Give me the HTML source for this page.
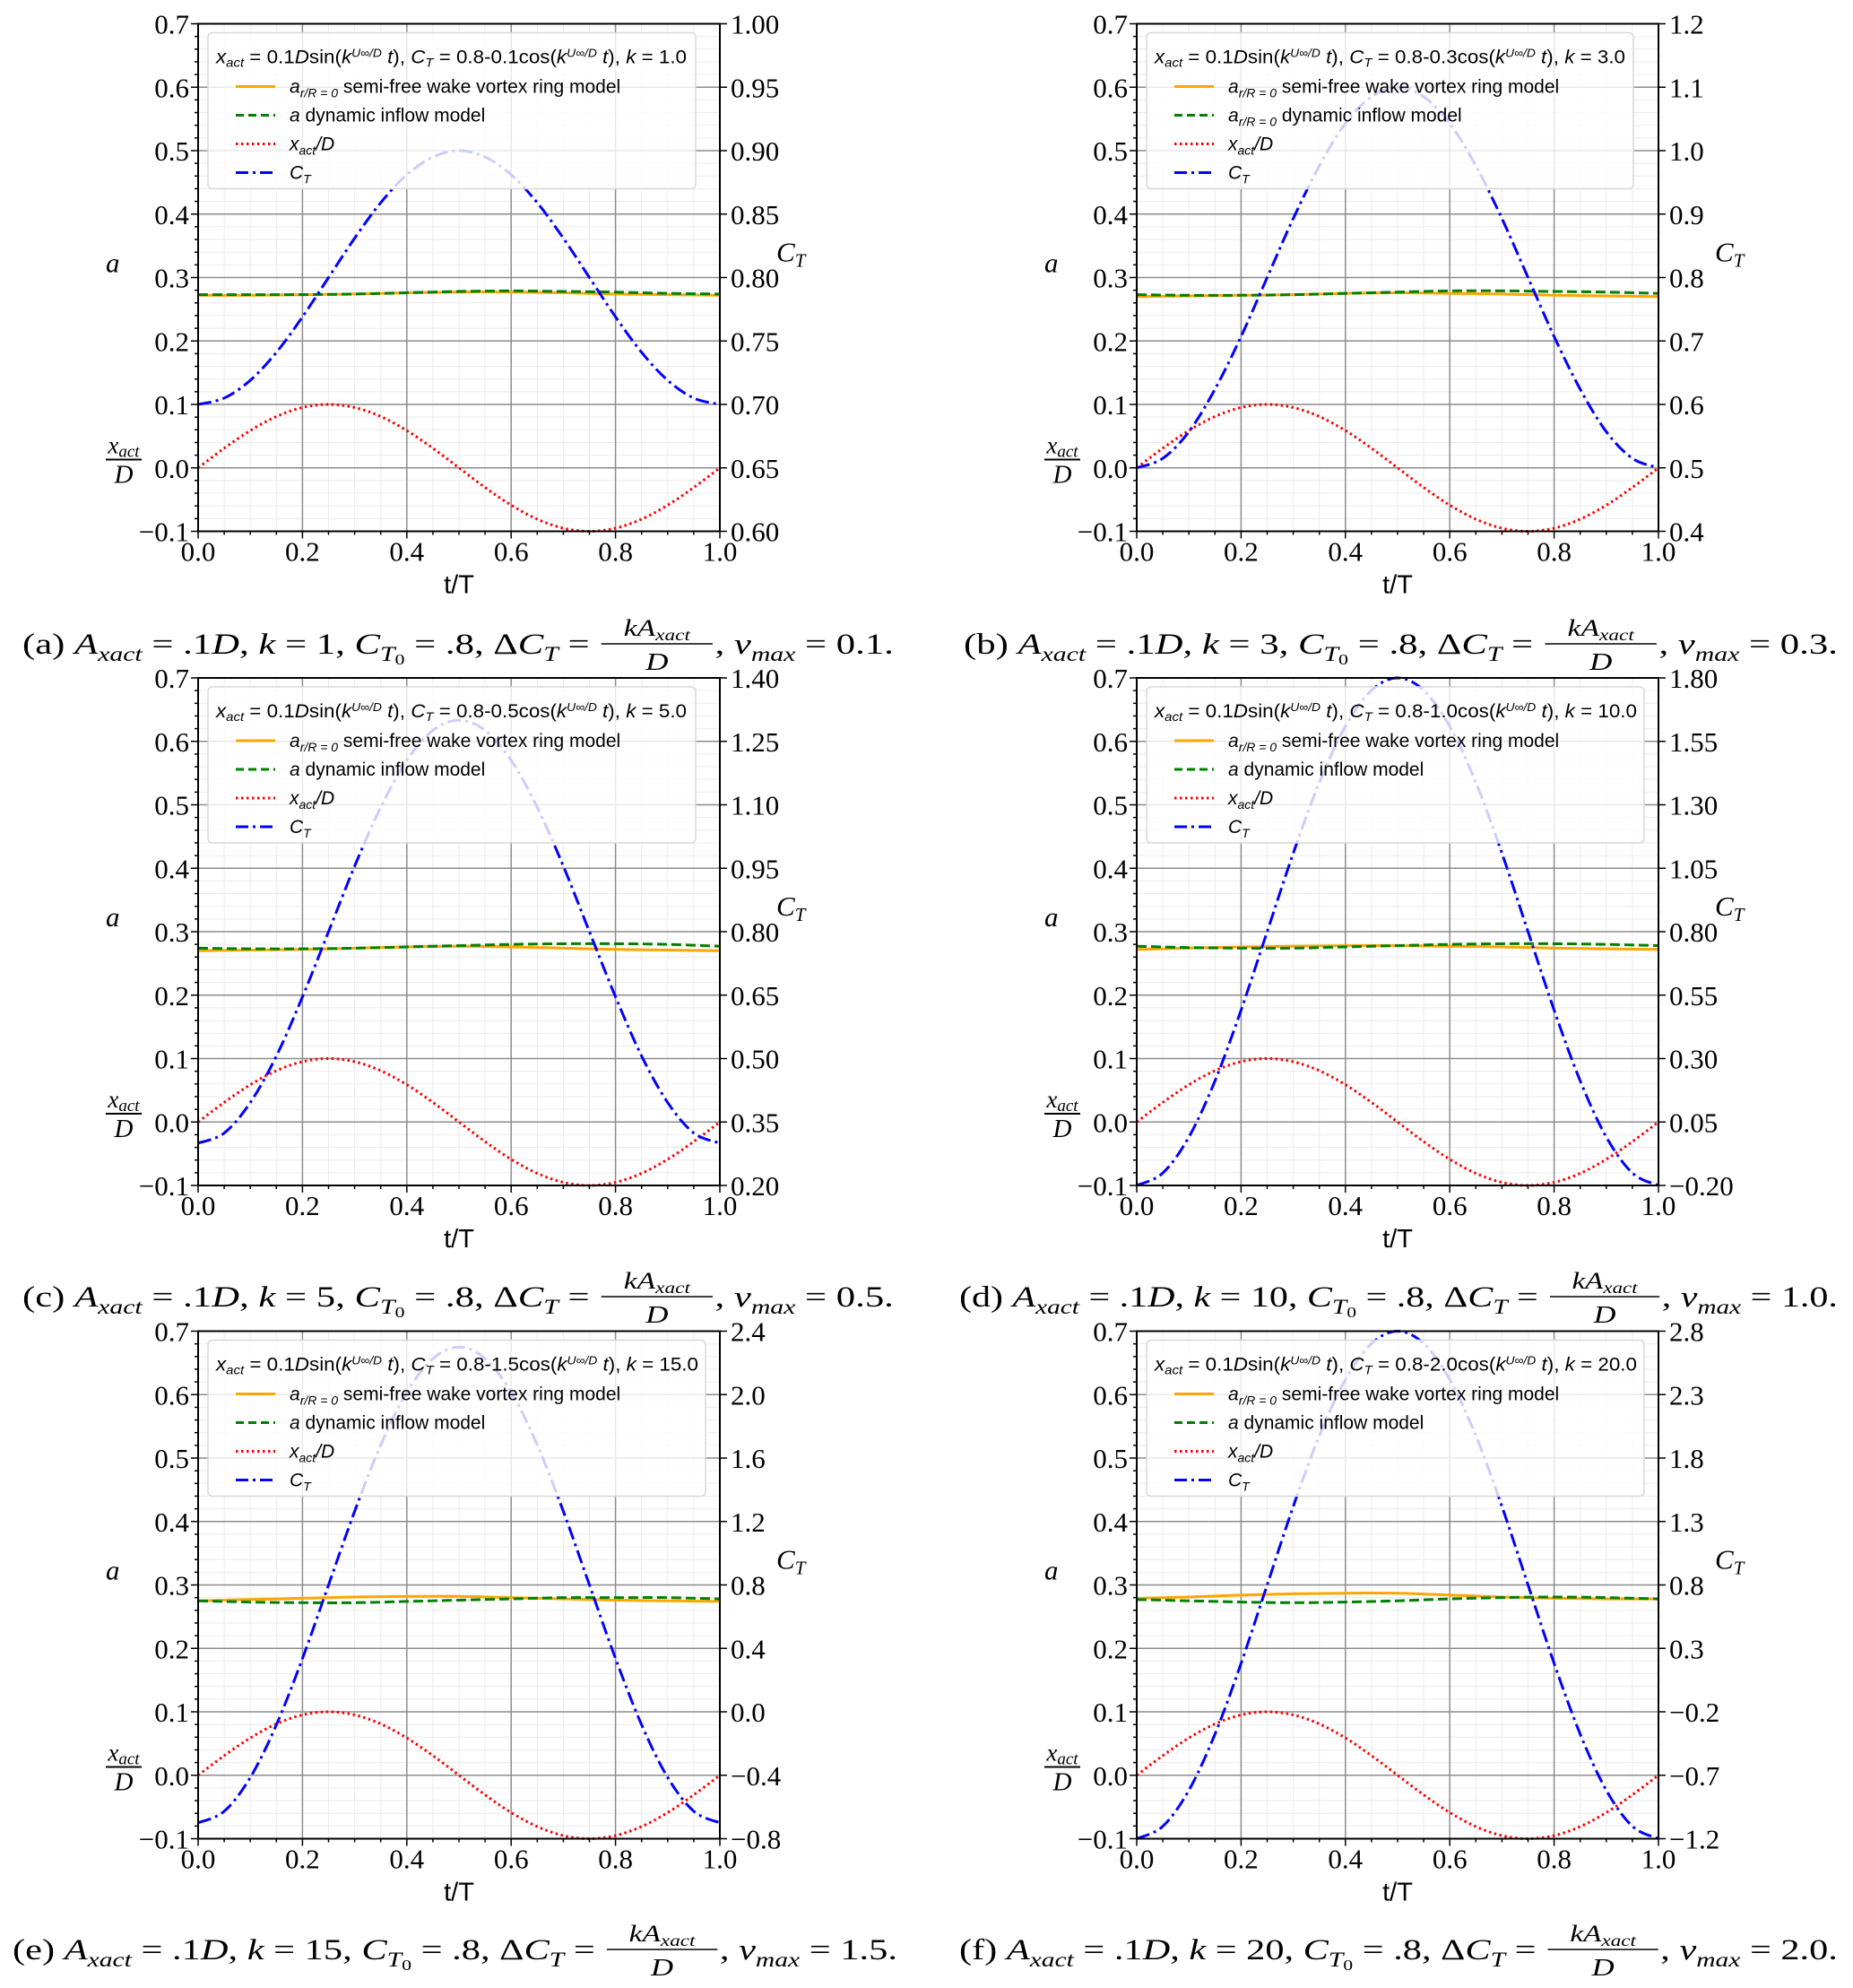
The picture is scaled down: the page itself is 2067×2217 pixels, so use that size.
<!DOCTYPE html>
<html><head><meta charset="utf-8">
<style>
html,body{margin:0;padding:0;background:#fff;}
svg{display:block;}
</style></head>
<body>
<svg id="fig" width="2067" height="2217" viewBox="0 0 2067 2217" xmlns="http://www.w3.org/2000/svg"></svg>
<script>
// ---- data ----
const tFine = [0,0.05,0.1,0.15,0.2,0.25,0.3,0.35,0.4,0.45,0.5,0.55,0.6,0.65,0.7,0.75,0.8,0.85,0.9,0.95,1.0];
const tCoarse = [0,0.1,0.2,0.3,0.4,0.5,0.6,0.7,0.8,0.9,1.0];
const xactValues = [0,0.0309,0.0588,0.0809,0.0951,0.1,0.0951,0.0809,0.0588,0.0309,0,-0.0309,-0.0588,-0.0809,-0.0951,-0.1,-0.0951,-0.0809,-0.0588,-0.0309,0];
const ctA = [0.700,0.705,0.719,0.741,0.769,0.800,0.831,0.859,0.881,0.895,0.900,0.895,0.881,0.859,0.831,0.800,0.769,0.741,0.719,0.705,0.700];
const ctB = [0.500,0.515,0.557,0.624,0.707,0.800,0.893,0.976,1.043,1.085,1.100,1.085,1.043,0.976,0.893,0.800,0.707,0.624,0.557,0.515,0.500];
const ctC = [0.300,0.324,0.396,0.506,0.646,0.800,0.955,1.094,1.205,1.276,1.300,1.276,1.205,1.094,0.955,0.800,0.646,0.506,0.396,0.324,0.300];
const ctD = [-0.200,-0.151,-0.009,0.212,0.491,0.800,1.109,1.388,1.609,1.751,1.800,1.751,1.609,1.388,1.109,0.800,0.491,0.212,-0.009,-0.151,-0.200];
const ctE = [-0.700,-0.627,-0.414,-0.082,0.336,0.800,1.264,1.682,2.014,2.227,2.300,2.227,2.014,1.682,1.264,0.800,0.336,-0.082,-0.414,-0.627,-0.700];
const ctF = [-1.200,-1.102,-0.818,-0.376,0.182,0.800,1.418,1.976,2.418,2.702,2.800,2.702,2.418,1.976,1.418,0.800,0.182,-0.376,-0.818,-1.102,-1.200];
const ringA = [0.272,0.272,0.273,0.274,0.276,0.277,0.277,0.276,0.274,0.273,0.272];
const dynA  = [0.273,0.273,0.273,0.274,0.276,0.278,0.279,0.278,0.277,0.275,0.274];
const ringB = [0.270,0.271,0.272,0.273,0.275,0.276,0.275,0.274,0.272,0.271,0.270];
const dynB  = [0.273,0.272,0.272,0.273,0.275,0.277,0.279,0.279,0.278,0.277,0.275];
const ringC = [0.270,0.271,0.272,0.274,0.276,0.277,0.276,0.274,0.272,0.271,0.270];
const dynC  = [0.274,0.273,0.273,0.274,0.276,0.278,0.280,0.281,0.281,0.280,0.277];
const ringD = [0.272,0.274,0.276,0.277,0.278,0.278,0.277,0.276,0.274,0.273,0.272];
const dynD  = [0.277,0.275,0.274,0.274,0.276,0.278,0.280,0.281,0.281,0.280,0.278];
const ringE = [0.275,0.277,0.279,0.281,0.282,0.282,0.280,0.278,0.276,0.275,0.274];
const dynE  = [0.275,0.273,0.272,0.272,0.274,0.276,0.278,0.280,0.280,0.280,0.278];
const ringF = [0.279,0.281,0.284,0.286,0.287,0.287,0.284,0.281,0.279,0.278,0.278];
const dynF  = [0.277,0.275,0.273,0.272,0.273,0.275,0.278,0.280,0.281,0.280,0.278];
const xTicks = [0,0.2,0.4,0.6,0.8,1.0];
const xTickLabels = ["0.0","0.2","0.4","0.6","0.8","1.0"];
const leftTicks = [-0.1,0,0.1,0.2,0.3,0.4,0.5,0.6,0.7];
const leftTickLabels = ["\u22120.1","0.0","0.1","0.2","0.3","0.4","0.5","0.6","0.7"];
const rightTicksA = ["0.60","0.65","0.70","0.75","0.80","0.85","0.90","0.95","1.00"];
const rightTicksB = ["0.4","0.5","0.6","0.7","0.8","0.9","1.0","1.1","1.2"];
const rightTicksC = ["0.20","0.35","0.50","0.65","0.80","0.95","1.10","1.25","1.40"];
const rightTicksD = ["\u22120.20","0.05","0.30","0.55","0.80","1.05","1.30","1.55","1.80"];
const rightTicksE = ["\u22120.8","\u22120.4","0.0","0.4","0.8","1.2","1.6","2.0","2.4"];
const rightTicksF = ["\u22121.2","\u22120.7","\u22120.2","0.3","0.8","1.3","1.8","2.3","2.8"];
const ctRanges = [[0.6,1.0],[0.4,1.2],[0.2,1.4],[-0.2,1.8],[-0.8,2.4],[-1.2,2.8]];
const deltaLabels = ["0.1","0.3","0.5","1.0","1.5","2.0"];
const kLabels = ["1.0","3.0","5.0","10.0","15.0","20.0"];
const kCaption = ["1","3","5","10","15","20"];
const vmaxLabels = ["0.1","0.3","0.5","1.0","1.5","2.0"];

// ---- layout ----
const NS = "http://www.w3.org/2000/svg";
const fig = document.getElementById('fig');
const W = 582, H = 566;
const panels = [
 {id:'a',L:221,T:26.5,ct:ctA,ring:ringA,dyn:dynA,rt:rightTicksA,capX:25,capEnd:997,legW:544,titleW:525,dynSub:false},
 {id:'b',L:1268,T:26.5,ct:ctB,ring:ringB,dyn:dynB,rt:rightTicksB,capX:1075,capEnd:2050,legW:543,titleW:525,dynSub:true},
 {id:'c',L:221,T:756,ct:ctC,ring:ringC,dyn:dynC,rt:rightTicksC,capX:25,capEnd:997,legW:544,titleW:525,dynSub:false},
 {id:'d',L:1268,T:756,ct:ctD,ring:ringD,dyn:dynD,rt:rightTicksD,capX:1070,capEnd:2050,legW:555,titleW:538,dynSub:false},
 {id:'e',L:221,T:1484.5,ct:ctE,ring:ringE,dyn:dynE,rt:rightTicksE,capX:14,capEnd:1001,legW:555,titleW:538,dynSub:false},
 {id:'f',L:1268,T:1484.5,ct:ctF,ring:ringF,dyn:dynF,rt:rightTicksF,capX:1070,capEnd:2050,legW:555,titleW:538,dynSub:false}
];
const capY = [717,717,1445,1445,2173,2173];

function el(tag, attrs, parent){
  const e = document.createElementNS(NS, tag);
  for (const k in attrs) e.setAttribute(k, attrs[k]);
  (parent||fig).appendChild(e);
  return e;
}
function smoothPath(pts){
  let d = 'M' + pts[0][0].toFixed(2) + ',' + pts[0][1].toFixed(2);
  for (let i=0;i<pts.length-1;i++){
    const p0 = pts[i-1]||pts[i], p1 = pts[i], p2 = pts[i+1], p3 = pts[i+2]||pts[i+1];
    const c1 = [p1[0]+(p2[0]-p0[0])/6, p1[1]+(p2[1]-p0[1])/6];
    const c2 = [p2[0]-(p3[0]-p1[0])/6, p2[1]-(p3[1]-p1[1])/6];
    d += 'C'+c1[0].toFixed(2)+','+c1[1].toFixed(2)+' '+c2[0].toFixed(2)+','+c2[1].toFixed(2)+' '+p2[0].toFixed(2)+','+p2[1].toFixed(2);
  }
  return d;
}

panels.forEach((p, pi) => {
  const g = el('g', {});
  
  
  const xs = t => p.L + t * W;
  const ys = v => p.T + H - (v + 0.1) / 0.8 * H;
  const [c0, c1] = ctRanges[pi];
  const ysR = v => p.T + H - (v - c0) / (c1 - c0) * H;

  for (let i=1;i<20;i++){ const x = xs(i*0.05);
    el('line',{x1:x,x2:x,y1:p.T,y2:p.T+H,stroke:'#ebebeb','stroke-width':1},g); }
  for (let i=1;i<40;i++){ const y = ys(-0.1 + i*0.02);
    el('line',{x1:p.L,x2:p.L+W,y1:y,y2:y,stroke:'#ebebeb','stroke-width':1},g); }
  xTicks.forEach(t => { const x = xs(t);
    const l = el('line',{x1:x,x2:x,y1:p.T,y2:p.T+H,stroke:'#8c8c8c','stroke-width':1.5},g);
      });
  leftTicks.forEach(v => { const y = ys(v);
    const l = el('line',{x1:p.L,x2:p.L+W,y1:y,y2:y,stroke:'#8c8c8c','stroke-width':1.5},g);
      });

  const xPts = tFine.map((t,i)=>[xs(t), ys(xactValues[i])]);
  const ctPts = tFine.map((t,i)=>[xs(t), ysR(p.ct[i])]);
  const ringPts = tCoarse.map((t,i)=>[xs(t), ys(p.ring[i])]);
  const dynPts = tCoarse.map((t,i)=>[xs(t), ys(p.dyn[i])]);
  const s1 = el('path',{d:smoothPath(ringPts),fill:'none',stroke:'#FFA500','stroke-width':3},g);
   
  const s2 = el('path',{d:smoothPath(dynPts),fill:'none',stroke:'#008000','stroke-width':3,'stroke-dasharray':'11,5'},g);
   
  const s3 = el('path',{d:smoothPath(xPts),fill:'none',stroke:'#ff0000','stroke-width':3,'stroke-dasharray':'2.5,3.5'},g);
   
  const s4 = el('path',{d:smoothPath(ctPts),fill:'none',stroke:'#0000ff','stroke-width':3,'stroke-dasharray':'15,5,3,5'},g);
   

  // legend
  const lg = el('g',{},g);
   
  const lx = p.L + 11, ly = p.T + 10;
  el('rect',{x:lx,y:ly,width:p.legW,height:174,rx:5,fill:'#fff','fill-opacity':0.8,stroke:'#d8d8d8','stroke-width':1.5},lg);
  const ff = 'font-family:"Liberation Sans",sans-serif;';
  const title = el('text',{x:lx+9,y:ly+34,'font-size':21,style:ff,textLength:p.titleW,lengthAdjust:'spacingAndGlyphs'},lg);
   
  title.innerHTML = '<tspan font-style="italic">x</tspan><tspan font-style="italic" font-size="14" dy="4">act</tspan><tspan dy="-4"> = 0.1</tspan><tspan font-style="italic">D</tspan>sin(<tspan font-style="italic">k</tspan><tspan font-size="13" font-style="italic" dy="-7">U∞/D</tspan><tspan dy="7" font-style="italic"> t</tspan>), <tspan font-style="italic">C</tspan><tspan font-style="italic" font-size="14" dy="4">T</tspan><tspan dy="-4"> = 0.8-' + deltaLabels[pi] + 'cos(</tspan><tspan font-style="italic">k</tspan><tspan font-size="13" font-style="italic" dy="-7">U∞/D</tspan><tspan dy="7" font-style="italic"> t</tspan>), <tspan font-style="italic">k</tspan> = ' + kLabels[pi];
  const rows = [
    {y:70, stroke:'#FFA500', dash:'', name:'legend-entry-ring', html:'<tspan font-style="italic">a</tspan><tspan font-style="italic" font-size="14" dy="5">r/R = 0</tspan><tspan dy="-5"> semi-free wake vortex ring model</tspan>'},
    {y:102, stroke:'#008000', dash:'9,5', name:'legend-entry-dynamic', html: p.dynSub ? '<tspan font-style="italic">a</tspan><tspan font-style="italic" font-size="14" dy="5">r/R = 0</tspan><tspan dy="-5"> dynamic inflow model</tspan>' : '<tspan font-style="italic">a</tspan> dynamic inflow model'},
    {y:134, stroke:'#ff0000', dash:'2.5,3.5', name:'legend-entry-xact', html:'<tspan font-style="italic">x</tspan><tspan font-style="italic" font-size="14" dy="5">act</tspan><tspan dy="-5" font-style="italic">/D</tspan>'},
    {y:166, stroke:'#0000ff', dash:'14,5,3,5', name:'legend-entry-ct', html:'<tspan font-style="italic">C</tspan><tspan font-style="italic" font-size="14" dy="5">T</tspan>'}
  ];
  rows.forEach(r => {
    const rg = el('g',{},lg);
     
    const a = {x1:p.L+42,x2:p.L+86,y1:p.T+r.y,y2:p.T+r.y,stroke:r.stroke,'stroke-width':3};
    if (r.dash) a['stroke-dasharray'] = r.dash;
    el('line',a,rg);
    const t = el('text',{x:p.L+102,y:p.T+r.y+7,'font-size':21,style:ff},rg);
    t.innerHTML = r.html;
  });

  const sp = el('rect',{x:p.L,y:p.T,width:W,height:H,fill:'none',stroke:'#000','stroke-width':2},g);
   

  const tf = 'font-family:"Liberation Serif",serif;';
  for (let i=0;i<=20;i++){ const x = xs(i*0.05); const len = (i%4===0)?8:4;
    el('line',{x1:x,x2:x,y1:p.T+H,y2:p.T+H+len,stroke:'#000','stroke-width':1.5},g); }
  xTicks.forEach((t,i) => {
    const tx = el('text',{x:xs(t),y:p.T+H+33,'font-size':31,'text-anchor':'middle',style:tf},g);
     
    tx.textContent = xTickLabels[i];
  });
  for (let i=0;i<=40;i++){ const y = ys(-0.1+i*0.02); const len = (i%5===0)?8:4;
    el('line',{x1:p.L-len,x2:p.L,y1:y,y2:y,stroke:'#000','stroke-width':1.5},g); }
  leftTicks.forEach((v,i) => {
    const tx = el('text',{x:p.L-10,y:ys(v)+11,'font-size':31,'text-anchor':'end',style:tf},g);
     
    tx.textContent = leftTickLabels[i];
  });
  p.rt.forEach((lab,i) => {
    const y = p.T + H - i * H / 8;
    el('line',{x1:p.L+W,x2:p.L+W+8,y1:y,y2:y,stroke:'#000','stroke-width':1.5},g);
    const tx = el('text',{x:p.L+W+12,y:y+11,'font-size':31,style:tf},g);
     
    tx.textContent = lab;
  });
  const xl = el('text',{x:p.L+W/2,y:p.T+H+69,'font-size':29,'text-anchor':'middle',style:'font-family:"Liberation Sans",sans-serif;'},g);
   
  xl.textContent = 't/T';
  const al = el('text',{x:p.L-103,y:p.T+277,'font-size':31,'font-style':'italic',style:tf},g);
   
  al.textContent = 'a';
  const fg = el('g',{},g);
   
  const fx = el('text',{x:p.L-83,y:p.T+479,'font-size':27,'text-anchor':'middle',style:tf},fg);
  fx.innerHTML = '<tspan font-style="italic">x</tspan><tspan font-style="italic" font-size="19" dy="4">act</tspan>';
  el('line',{x1:p.L-103,x2:p.L-63,y1:p.T+486,y2:p.T+486,stroke:'#000','stroke-width':2},fg);
  const fd = el('text',{x:p.L-83,y:p.T+512,'font-size':29,'font-style':'italic','text-anchor':'middle',style:tf},fg);
  fd.textContent = 'D';
  const cl = el('text',{x:p.L+W+63,y:p.T+265,'font-size':31,style:tf},g);
   
  cl.innerHTML = '<tspan font-style="italic">C</tspan><tspan font-style="italic" font-size="21" dy="6">T</tspan>';

  // caption (measured and scaled to fit)
  const cy = capY[pi] + 12;
  const outer = el('g',{},fig);
   
  const cg = el('g',{},outer);
  const before = el('text',{x:0,y:0,'font-size':33,style:tf},cg);
  before.innerHTML = '(' + p.id + ') <tspan font-style="italic">A</tspan><tspan font-style="italic" font-size="23" dy="8">xact</tspan><tspan dy="-8"> = .1</tspan><tspan font-style="italic">D</tspan>, <tspan font-style="italic">k</tspan> = ' + kCaption[pi] + ', <tspan font-style="italic">C</tspan><tspan font-style="italic" font-size="23" dy="8">T</tspan><tspan font-size="17" dy="4">0</tspan><tspan dy="-12"> = .8, Δ</tspan><tspan font-style="italic">C</tspan><tspan font-style="italic" font-size="23" dy="8">T</tspan><tspan dy="-8"> =</tspan>';
  const wB = before.getComputedTextLength();
  const fracC = wB + 10 + 48;
  const num = el('text',{x:fracC,y:-20,'font-size':26,'text-anchor':'middle',style:tf},cg);
  num.innerHTML = '<tspan font-style="italic">kA</tspan><tspan font-style="italic" font-size="18" dy="5">xact</tspan>';
  el('line',{x1:fracC-48,x2:fracC+48,y1:-11,y2:-11,stroke:'#000','stroke-width':1.5},cg);
  const den = el('text',{x:fracC,y:18,'font-size':27,'font-style':'italic','text-anchor':'middle',style:tf},cg);
  den.textContent = 'D';
  const after = el('text',{x:fracC+50,y:0,'font-size':33,style:tf},cg);
  after.innerHTML = ', <tspan font-style="italic">v</tspan><tspan font-style="italic" font-size="23" dy="8">max</tspan><tspan dy="-8"> = ' + vmaxLabels[pi] + '.</tspan>';
  const total = fracC + 50 + after.getComputedTextLength();
  const s = (p.capEnd - p.capX) / total;
  cg.setAttribute('transform','translate(' + p.capX + ',' + cy + ') scale(' + s.toFixed(4) + ',1)');
});
</script>
</body></html>
